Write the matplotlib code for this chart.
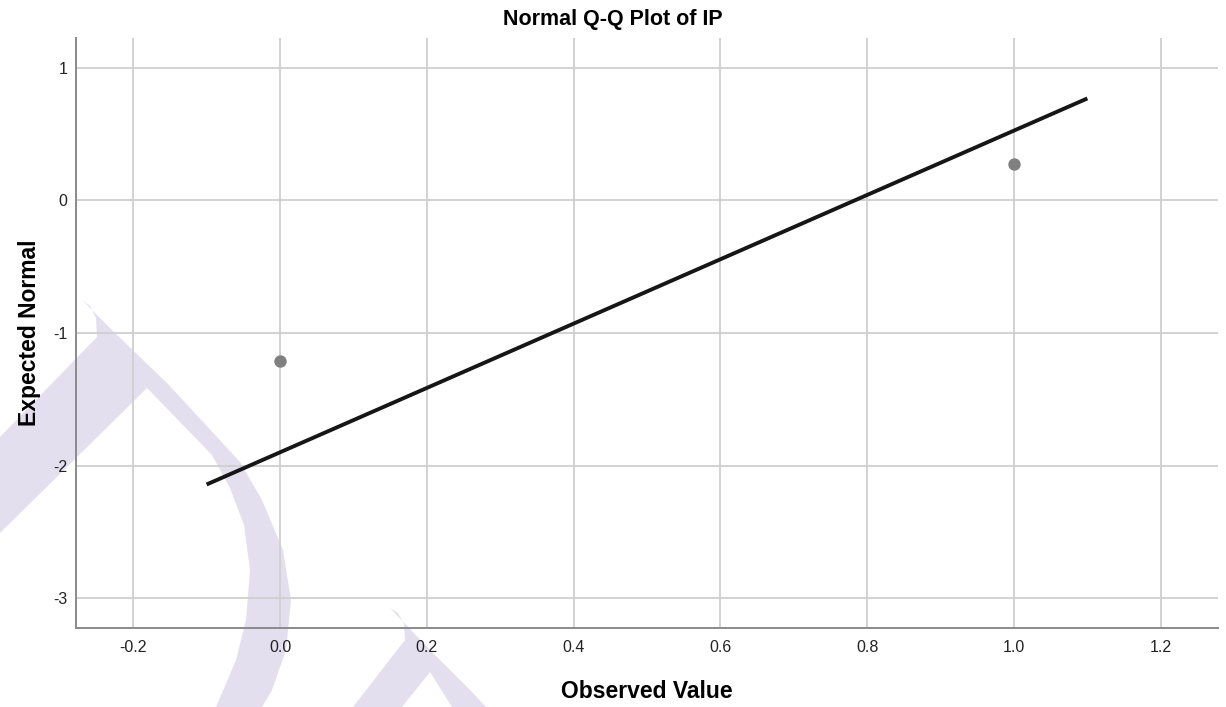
import matplotlib
matplotlib.use("Agg")
import numpy as np
from matplotlib import pyplot as plt
from matplotlib.patches import Polygon

# observed values and their expected normal scores
observed = [0.0, 1.0]
expected = [-1.215, 0.272]

# reference line ends (observed range padded by 0.1)
line_x = [-0.1, 1.1]
line_y = [-2.143, 0.770]

x_ticks = [-0.2, 0.0, 0.2, 0.4, 0.6, 0.8, 1.0, 1.2]
x_labels = ['-0.2', '0.0', '0.2', '0.4', '0.6', '0.8', '1.0', '1.2']
y_ticks = [-3, -2, -1, 0, 1]
y_labels = ['-3', '-2', '-1', '0', '1']

plt.rcParams['font.family'] = ['Liberation Sans', 'DejaVu Sans']

W, H = 1226, 707
fig = plt.figure(figsize=(W / 100, H / 100), dpi=100)
fig.patch.set_facecolor('white')

# faint watermark behind the plot, in pixel coords of the figure
wm = '#e4dfee'
bg = fig.add_axes([0, 0, 1, 1], zorder=0)
bg.set_xlim(0, W)
bg.set_ylim(H, 0)
bg.axis('off')
big_mark = [(82, 300), (117, 335), (167, 383), (217, 437), (240, 462), (262, 500),
            (283, 550), (291, 600), (286, 650), (272, 690), (262, 707), (216, 707),
            (236, 660), (246, 620), (250, 570), (244, 525), (230, 488), (212, 455),
            (147, 388), (0, 533), (0, 437), (97, 337), (96, 318), (90, 306)]
small_mark = [(390, 608), (430, 650), (470, 690), (486, 707), (452, 707), (430, 672),
              (402, 707), (353, 707), (405, 640), (404, 624), (398, 613)]
bg.add_patch(Polygon(big_mark, closed=True, color=wm, lw=0))
bg.add_patch(Polygon(small_mark, closed=True, color=wm, lw=0))

ax = fig.add_axes([76 / W, 1 - 628 / H, (1218 - 76) / W, (628 - 38) / H], zorder=1)
ax.set_facecolor('none')

ax.plot(line_x, line_y, color='#161616', lw=2.8, zorder=3, solid_capstyle='butt')
ax.scatter(observed, expected, s=80, color='#808080', zorder=4, linewidths=0)

ax.set_xlim(-0.278, 1.278)
ax.set_ylim(-3.226, 1.226)
ax.set_xticks(x_ticks)
ax.set_xticklabels(x_labels)
ax.set_yticks(y_ticks)
ax.set_yticklabels(y_labels)
ax.tick_params(length=0, labelsize=11.5, colors='#222222')
ax.tick_params(axis='x', pad=9)
ax.tick_params(axis='y', pad=6)
ax.grid(True, color='#cfcfcf', lw=1.3)
ax.set_axisbelow(True)

for side in ['top', 'right']:
    ax.spines[side].set_visible(False)
for side in ['left', 'bottom']:
    ax.spines[side].set_color('#8a8a8a')
    ax.spines[side].set_linewidth(1.4)

ax.set_xlabel('Observed Value', fontsize=16.5, fontweight='bold', labelpad=18)
ax.set_ylabel('Expected Normal', fontsize=16.5, fontweight='bold', labelpad=9)
fig.text(0.5, 1 - 20 / H, 'Normal Q-Q Plot of IP', ha='center', va='center',
         fontsize=15.5, fontweight='bold')

fig.savefig('out.png', dpi=100)
